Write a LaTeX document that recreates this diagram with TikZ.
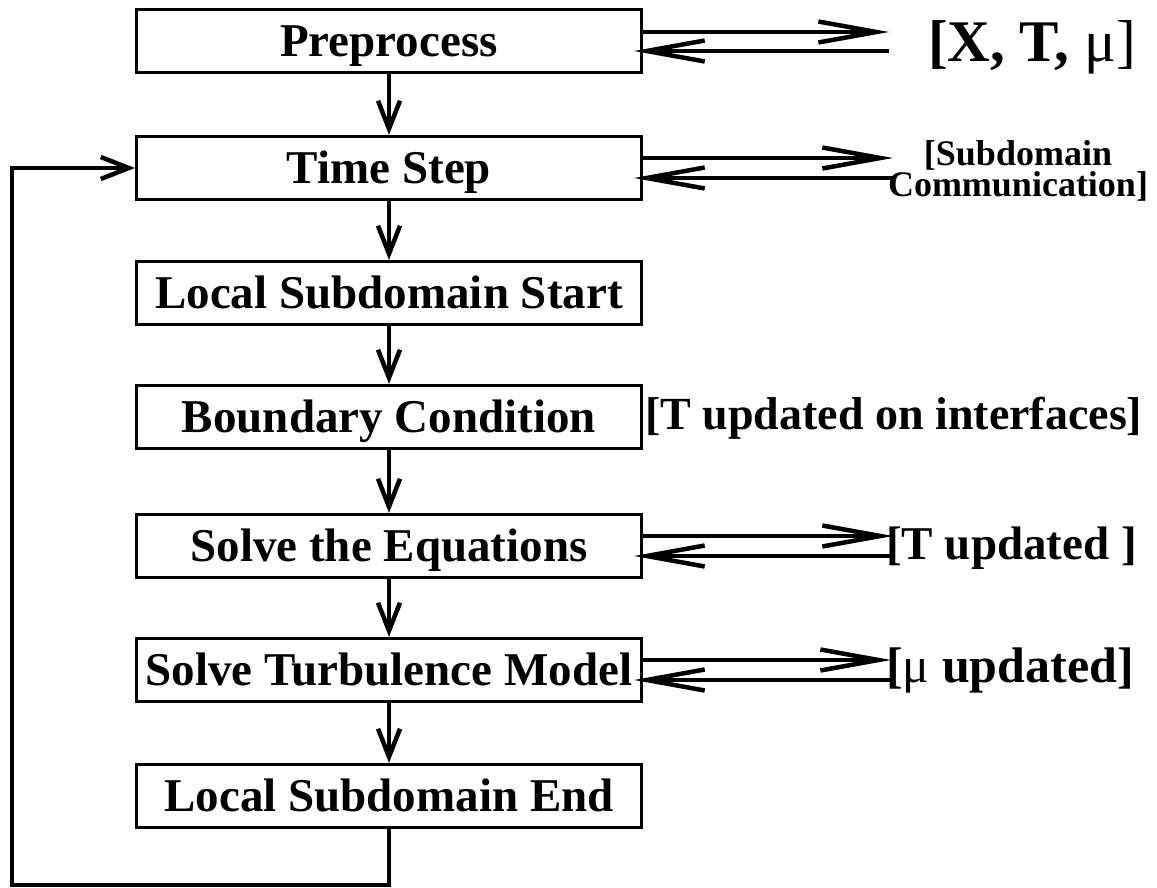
\documentclass[tikz,border=0pt]{standalone}
\usepackage{fontspec}
\setmainfont{Liberation Serif}
\usetikzlibrary{arrows.meta,calc}
\begin{document}
\begin{tikzpicture}[x=1pt,y=-1pt,
  box/.style={draw, line width=3.2pt, minimum width=505pt, minimum height=63pt, inner sep=0pt,
    text height=31pt, text depth=0pt,
    font=\fontsize{47}{56}\selectfont\bfseries},
  lbl/.style={inner sep=0pt, font=\fontsize{47}{56}\selectfont\bfseries},
  small/.style={inner sep=0pt, align=center, font=\fontsize{36}{28}\selectfont\bfseries},
  flow/.style={line width=3.5pt, -{Straight Barb[length=28pt,width=22pt,line width=4.5pt]}},
  side/.style={line width=3.5pt, -{Straight Barb[length=58pt,width=21pt,line width=4.5pt]}}]
\useasboundingbox (0,0) rectangle (1157,888);
\node[box] (pre) at (389,41) {Preprocess};
\node[box] (ts)  at (389,168) {Time Step};
\node[box] (lss) at (389,293) {Local Subdomain Start};
\node[box] (bc)  at (389,417) {Boundary Condition};
\node[box] (se)  at (389,546) {Solve the Equations};
\node[box] (stm) at (389,670) {Solve Turbulence Model};
\node[box] (lse) at (389,796) {Local Subdomain End};

\node[lbl, anchor=west, font=\fontsize{59}{68}\selectfont\bfseries] (xtm) at (928,47) {[X, T, {\mdseries μ]}};
\node[small] (sub) at (1018,171) {[Subdomain\\Communication]};
\node[lbl, anchor=west, font=\fontsize{46}{55}\selectfont\bfseries] (bcl) at (645,418) {[T updated on interfaces]};
\node[lbl, anchor=west] (tup) at (886,548) {[T updated ]};
\node[lbl, anchor=west, font=\fontsize{50}{59}\selectfont\bfseries] (mup) at (886,670) {[{\mdseries μ} updated]};

\draw[flow] (pre) -- (ts);
\draw[flow] (ts) -- (lss);
\draw[flow] (lss) -- (bc);
\draw[flow] (bc) -- (se);
\draw[flow] (se) -- (stm);
\draw[flow] (stm) -- (lse);

\coordinate (lb) at (12,885);
\draw[flow] (lse.south) -- (lse.south |- lb) -- (lb) -- (lb |- ts.west) -- (ts.west);

\coordinate (pr) at (889,41);
\coordinate (tr) at (893,168);
\coordinate (sr) at (893,546);
\coordinate (mr) at (891,670);
\draw[side] ([yshift=9pt]pre.east) -- ([yshift=9pt]pr);
\draw[side] ([yshift=-10pt]pr) -- ([yshift=-10pt,xshift=-9pt]pre.east);
\draw[side] ([yshift=10pt]ts.east) -- ([yshift=10pt]tr);
\draw[side] ([yshift=-10pt]tr) -- ([yshift=-10pt,xshift=-9pt]ts.east);
\draw[side] ([yshift=10pt]se.east) -- ([yshift=10pt]sr);
\draw[side] ([yshift=-10pt]sr) -- ([yshift=-10pt,xshift=-9pt]se.east);
\draw[side] ([yshift=10pt]stm.east) -- ([yshift=10pt]mr);
\draw[side] ([yshift=-10pt]mr) -- ([yshift=-10pt,xshift=-9pt]stm.east);
\end{tikzpicture}
\end{document}
